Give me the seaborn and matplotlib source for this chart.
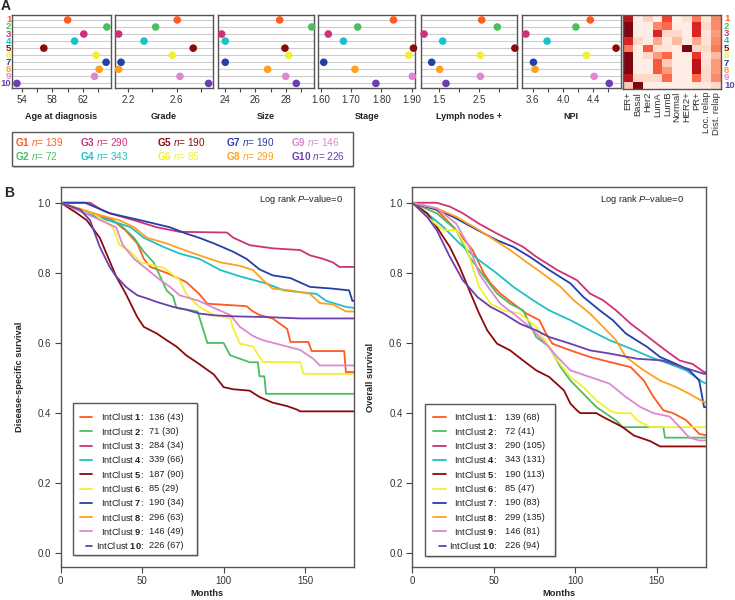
import pandas as pd
import seaborn as sns
import matplotlib.pyplot as plt
from matplotlib.patches import Rectangle

sns.set_theme(style="white")
plt.rcParams["font.family"] = ["Liberation Sans", "DejaVu Sans"]
plt.rcParams["mathtext.fontset"] = "custom"
plt.rcParams["mathtext.rm"] = "Liberation Sans"
plt.rcParams["mathtext.it"] = "Liberation Sans:italic"
plt.rcParams["mathtext.bf"] = "Liberation Sans:bold"

clusters = [str(i) for i in range(1, 11)]
colors = ["#FF5A1F", "#4DBD5F", "#CD3278", "#1EC0C8", "#8B0A0A",
          "#F2F02E", "#2340A8", "#FFA020", "#DD88D0", "#6A3FB0"]
group_n = [139, 72, 290, 343, 190, 85, 190, 299, 146, 226]

# panel A: mean clinical values per cluster
age = [60.0, 65.1, 62.1, 60.9, 56.9, 63.7, 65.0, 64.1, 63.5, 53.4]
grade = [2.605, 2.426, 2.12, 2.33, 2.737, 2.564, 2.14, 2.12, 2.627, 2.864]
size = [27.6, 29.72, 23.76, 24.0, 27.95, 28.2, 24.0, 26.8, 28.0, 28.7]
stage = [1.840, 1.722, 1.625, 1.675, 1.906, 1.890, 1.610, 1.713, 1.902, 1.782]
lymph = [2.56, 2.95, 1.12, 1.585, 3.39, 2.525, 1.31, 1.51, 2.525, 1.667]
npi = [4.36, 4.17, 3.51, 3.79, 4.70, 4.31, 3.61, 3.63, 4.41, 4.61]

heat_cols = ["ER+", "Basal", "Her2", "LumA", "LumB", "Normal", "HER2+", "PR+",
             "Loc. relap", "Dist. relap"]
heat_vals = [
    [0.80, 0.05, 0.18, 0.03, 0.60, 0.03, 0.12, 0.45, 0.10, 0.40],
    [0.95, 0.05, 0.05, 0.40, 0.50, 0.05, 0.05, 0.70, 0.15, 0.40],
    [0.95, 0.05, 0.05, 0.70, 0.15, 0.15, 0.05, 0.70, 0.10, 0.35],
    [0.70, 0.15, 0.05, 0.30, 0.08, 0.25, 0.05, 0.30, 0.12, 0.40],
    [0.45, 0.05, 0.55, 0.12, 0.10, 0.05, 0.95, 0.15, 0.15, 0.45],
    [0.95, 0.05, 0.15, 0.35, 0.50, 0.05, 0.05, 0.65, 0.10, 0.25],
    [0.95, 0.05, 0.05, 0.55, 0.20, 0.05, 0.05, 0.80, 0.12, 0.35],
    [0.95, 0.05, 0.05, 0.55, 0.35, 0.05, 0.05, 0.80, 0.15, 0.35],
    [0.80, 0.15, 0.15, 0.15, 0.50, 0.05, 0.05, 0.50, 0.15, 0.40],
    [0.20, 0.95, 0.05, 0.05, 0.05, 0.05, 0.05, 0.08, 0.08, 0.15],
]

# panel B: survival curves (months, survival)
dss = {
    "1": ([0, 20, 32, 40, 47, 51, 55, 65, 77, 85, 90, 114, 118, 122, 130, 133, 139, 141, 152, 154, 174, 175, 180],
          [1, .97, .95, .92, .884, .84, .817, .80, .774, .74, .712, .705, .69, .68, .67, .66, .64, .603, .603, .577, .577, .517, .517]),
    "2": ([0, 15, 36, 45, 51, 57, 61, 65, 69, 71, 84, 86, 90, 100, 104, 116, 121, 122, 125, 126, 180],
          [1, .97, .94, .90, .86, .83, .79, .75, .733, .70, .69, .66, .60, .60, .565, .545, .545, .505, .505, .455, .455]),
    "3": ([0, 18, 25, 30, 45, 59, 73, 102, 106, 116, 130, 147, 153, 161, 167, 171, 180],
          [1, 1, .98, .97, .95, .93, .917, .915, .90, .879, .87, .865, .85, .84, .83, .817, .817]),
    "4": ([0, 15, 30, 43, 51, 63, 73, 85, 98, 110, 126, 137, 157, 163, 175, 180],
          [1, .97, .95, .93, .90, .874, .855, .84, .808, .79, .77, .75, .74, .72, .703, .70]),
    "5": ([0, 10, 16, 24, 34, 40, 47, 51, 59, 65, 71, 77, 85, 94, 100, 106, 116, 122, 130, 139, 145, 147, 180],
          [1, .97, .95, .90, .79, .74, .674, .646, .627, .608, .59, .565, .54, .51, .474, .468, .464, .446, .43, .42, .41, .405, .405]),
    "6": ([0, 20, 32, 36, 43, 49, 63, 73, 77, 85, 94, 104, 106, 110, 118, 124, 147, 149, 180],
          [1, .97, .93, .88, .86, .83, .815, .78, .74, .703, .68, .67, .64, .598, .59, .546, .545, .512, .512]),
    "7": ([0, 15, 30, 49, 67, 77, 85, 94, 106, 114, 122, 130, 141, 153, 167, 177, 179, 180],
          [1, 1, .97, .95, .93, .912, .90, .884, .86, .84, .81, .793, .785, .76, .755, .75, .72, .72]),
    "8": ([0, 20, 36, 45, 53, 65, 73, 85, 98, 110, 118, 124, 130, 141, 153, 159, 167, 175, 180],
          [1, .97, .95, .93, .90, .884, .87, .85, .83, .82, .808, .78, .755, .75, .74, .714, .71, .69, .69]),
    "9": ([0, 15, 34, 38, 45, 53, 61, 67, 73, 85, 94, 104, 110, 118, 124, 139, 147, 155, 159, 180],
          [1, .97, .93, .88, .84, .81, .78, .76, .736, .72, .70, .68, .646, .62, .608, .59, .58, .555, .536, .536]),
    "10": ([0, 12, 18, 24, 30, 34, 40, 47, 53, 59, 69, 77, 85, 94, 106, 126, 147, 180],
           [1, .98, .95, .874, .817, .79, .76, .736, .727, .717, .703, .695, .684, .679, .676, .674, .67, .67]),
}
os_surv = {
    "1": ([0, 15, 27, 37, 44, 48, 54, 62, 70, 78, 82, 86, 97, 109, 121, 134, 142, 148, 154, 160, 168, 176, 180],
          [1, .98, .922, .865, .798, .77, .741, .712, .684, .665, .627, .598, .579, .56, .546, .531, .493, .446, .408, .40, .38, .341, .337]),
    "2": ([0, 15, 27, 35, 44, 52, 60, 68, 72, 76, 84, 91, 97, 105, 113, 125, 129, 154, 155, 180],
          [1, .97, .922, .846, .79, .741, .712, .693, .655, .617, .589, .531, .493, .455, .417, .379, .36, .36, .33, .33]),
    "3": ([0, 15, 23, 31, 41, 52, 60, 68, 76, 89, 101, 109, 117, 125, 134, 142, 150, 158, 164, 172, 179, 180],
          [1, 1, .989, .97, .94, .912, .893, .874, .846, .808, .779, .741, .722, .693, .655, .627, .598, .57, .55, .54, .517, .517]),
    "4": ([0, 9, 19, 29, 41, 52, 62, 74, 84, 97, 109, 121, 134, 146, 158, 168, 178, 180],
          [1, .97, .931, .884, .836, .798, .76, .722, .693, .665, .636, .608, .584, .56, .54, .522, .489, .485]),
    "5": ([0, 9, 15, 23, 29, 35, 41, 46, 52, 60, 68, 76, 84, 93, 97, 101, 103, 113, 117, 125, 129, 136, 146, 152, 180],
          [1, .97, .931, .874, .817, .75, .684, .636, .598, .579, .55, .522, .503, .465, .427, .408, .40, .40, .389, .37, .36, .336, .32, .305, .305]),
    "6": ([0, 9, 19, 27, 33, 37, 41, 48, 56, 66, 76, 84, 89, 97, 105, 113, 121, 125, 134, 138, 146, 180],
          [1, .96, .922, .922, .874, .817, .76, .712, .693, .684, .646, .589, .55, .503, .474, .436, .408, .40, .40, .379, .36, .36]),
    "7": ([0, 15, 25, 40, 52, 62, 72, 84, 97, 105, 115, 123, 131, 144, 152, 162, 170, 176, 179, 180],
          [1, .98, .96, .922, .893, .874, .846, .808, .77, .731, .693, .665, .627, .589, .56, .54, .522, .493, .417, .417]),
    "8": ([0, 15, 27, 41, 52, 60, 70, 80, 91, 99, 109, 117, 125, 131, 142, 152, 162, 170, 179, 180],
          [1, .984, .96, .922, .889, .865, .831, .798, .76, .722, .684, .646, .608, .56, .522, .493, .474, .455, .431, .431]),
    "9": ([0, 15, 27, 35, 41, 48, 54, 62, 72, 80, 89, 97, 109, 121, 131, 140, 148, 158, 164, 170, 176, 180],
          [1, .984, .94, .874, .798, .75, .712, .684, .646, .608, .56, .522, .503, .484, .446, .417, .40, .39, .36, .33, .322, .322]),
    "10": ([0, 9, 15, 23, 31, 40, 48, 56, 66, 76, 84, 97, 109, 121, 138, 154, 166, 179, 180],
           [1, .96, .922, .846, .779, .731, .703, .684, .655, .636, .617, .598, .579, .57, .555, .55, .531, .512, .512]),
}
dss_counts = ["136 (43)", "71 (30)", "284 (34)", "339 (66)", "187 (90)",
              "85 (29)", "190 (34)", "296 (63)", "146 (49)", "226 (67)"]
os_counts = ["139 (68)", "72 (41)", "290 (105)", "343 (131)", "190 (113)",
             "85 (47)", "190 (83)", "299 (135)", "146 (81)", "226 (94)"]

W, H = 735, 600
fig = plt.figure(figsize=(W / 100, H / 100), dpi=100)
TXT = 6.7


def pax(x0, y0, x1, y1):
    return fig.add_axes([x0 / W, 1 - y1 / H, (x1 - x0) / W, (y1 - y0) / H])


def frame(ax):
    for sp in ax.spines.values():
        sp.set_visible(True)
        sp.set_color("#555555")
        sp.set_linewidth(1.0)


rows = list(range(1, 11))
panels = [
    ("Age at diagnosis", age, (12.3, 110.7), (52.8, 65.6), [54, 56, 58, 60, 62, 64], [54, 58, 62], "{:g}"),
    ("Grade", grade, (115, 212.7), (2.09, 2.898), [2.2, 2.4, 2.6, 2.8], [2.2, 2.6], "{:.1f}"),
    ("Size", size, (217.7, 314), (23.5, 29.87), [24, 25, 26, 27, 28, 29], [24, 26, 28], "{:g}"),
    ("Stage", stage, (318.3, 415), (1.592, 1.911), [1.6, 1.7, 1.8, 1.9], [1.6, 1.7, 1.8, 1.9], "{:.2f}"),
    ("Lymph nodes +", lymph, (420.7, 517.3), (1.035, 3.45), [1.5, 2.0, 2.5, 3.0], [1.5, 2.5], "{:.1f}"),
    ("NPI", npi, (521.7, 621), (3.455, 4.765), [3.6, 3.8, 4.0, 4.2, 4.4, 4.6], [3.6, 4.0, 4.4], "{:.1f}"),
]
for i, (title, vals, (x0, x1), xlim, ticks, labelled, fmt) in enumerate(panels):
    ax = pax(x0, 15, x1, 88)
    for r in rows:
        ax.axhline(r, color="#cccccc", lw=0.8, zorder=0)
    sns.scatterplot(x=vals, y=rows, hue=clusters, hue_order=clusters, palette=colors,
                    s=30, edgecolor="none", legend=False, ax=ax, zorder=3, clip_on=False)
    ax.set_xlim(*xlim)
    ax.set_ylim(10.65, 0.3)
    ax.set_yticks([])
    ax.set_xticks(ticks)
    ax.set_xticklabels([fmt.format(t) if t in labelled else "" for t in ticks])
    ax.tick_params(axis="x", direction="out", length=3, width=0.8, labelsize=7,
                   pad=2, color="#444444", labelcolor="#333333", bottom=True)
    ax.set_xlabel(title, fontsize=6.5, fontweight="bold", labelpad=5, color="#222222")
    ax.set_ylabel("")
    frame(ax)
    if i == 0:
        for r in rows:
            ax.text(-0.01, r, str(r), transform=ax.get_yaxis_transform(), ha="right",
                    va="center", fontsize=6.8, fontweight="bold", color=colors[r - 1])

hax = pax(623.3, 15, 721, 89)
heat_df = pd.DataFrame(heat_vals, index=clusters, columns=heat_cols)
sns.heatmap(heat_df, cmap="Reds", vmin=0, vmax=1, cbar=False, ax=hax,
            xticklabels=heat_cols, yticklabels=False)
hax.tick_params(axis="x", labelsize=6.8, length=0, pad=2, labelrotation=90,
                labelcolor="#333333")
frame(hax)
for r in rows:
    hax.text(1.03, r - 0.5, str(r), transform=hax.get_yaxis_transform(), ha="left",
             va="center", fontsize=6.8, fontweight="bold", color=colors[r - 1])


def survival_panel(box, curves, ylabel):
    ax = pax(*box)
    frames = []
    for c in clusters:
        t, s = curves[c]
        frames.append(pd.DataFrame({"t": t, "s": s, "cluster": c}))
    df = pd.concat(frames, ignore_index=True)
    sns.lineplot(data=df, x="t", y="s", hue="cluster", hue_order=clusters,
                 palette=colors, estimator=None, sort=False, lw=1.3,
                 legend=False, ax=ax)
    ax.set_xlim(0, 180)
    ax.set_ylim(-0.038, 1.044)
    ax.set_xticks([0, 50, 100, 150])
    ax.set_yticks([0, 0.2, 0.4, 0.6, 0.8, 1.0])
    ax.set_yticklabels(["0.0", "0.2", "0.4", "0.6", "0.8", "1.0"])
    ax.tick_params(direction="out", length=4, width=0.8, labelsize=7, pad=3,
                   color="#444444", labelcolor="#333333", bottom=True, left=True)
    ax.set_xlabel("Months", fontsize=TXT, fontweight="bold", labelpad=2)
    ax.set_ylabel(ylabel, fontsize=TXT, fontweight="bold", labelpad=10)
    frame(ax)
    return ax


survival_panel((60.7, 187.3, 354, 566.7), dss, "Disease-specific survival")
survival_panel((412.3, 187.3, 705.7, 566.7), os_surv, "Overall survival")

# overlay in pixel coordinates for legends and panel letters
ov = fig.add_axes([0, 0, 1, 1])
ov.set_xlim(0, W)
ov.set_ylim(H, 0)
ov.axis("off")

ov.text(1, 6.5, "A", fontsize=10, fontweight="bold", va="center", ha="left")
ov.text(4, 193, "B", fontsize=10, fontweight="bold", va="center", ha="left")

# group legend of panel A
ov.add_patch(Rectangle((13.5, 133.5), 341, 34, facecolor="#d0d0d0", edgecolor="none"))
ov.add_patch(Rectangle((11.7, 131.7), 341, 34, facecolor="white", edgecolor="#555555", lw=1))
col_x = [15, 80, 156.7, 226, 291]
for i, c in enumerate(clusters):
    x = col_x[i // 2]
    y = 141.7 if i % 2 == 0 else 155.7
    ov.text(x, y, r"$\mathbf{G" + c + r"}$ $\mathit{n}$= " + str(group_n[i]),
            color=colors[i], fontsize=7.2, va="center", ha="left")


def surv_legend(x0, y0, x1, y1, line_x, colon_x, count_x, counts):
    ov.add_patch(Rectangle((x0 + 2, y0 + 2), x1 - x0, y1 - y0, facecolor="#d8d8d8", edgecolor="none"))
    ov.add_patch(Rectangle((x0, y0), x1 - x0, y1 - y0, facecolor="white", edgecolor="#555555", lw=1))
    step = (545.7 - 417) / 9
    for i, c in enumerate(clusters):
        y = 417 + i * step
        lx0 = line_x[0] + (6 if c == "10" else 0)
        ov.plot([lx0, line_x[1]], [y, y], color=colors[i], lw=1.3)
        ov.text(colon_x, y, "IntClust " + r"$\mathbf{" + c + "}$:", fontsize=TXT,
                ha="right", va="center", color="#222222")
        ov.text(count_x, y, counts[i], fontsize=TXT, ha="left", va="center", color="#222222")


surv_legend(72.7, 402.7, 196.7, 555, (80, 92), 144, 149.3, dss_counts)
surv_legend(425, 404, 555, 555.7, (433.3, 446), 496.7, 505, os_counts)

ov.text(259.3, 200, r"Log rank $\mathit{P}$–value=0", fontsize=TXT, va="center", ha="left", color="#222222")
ov.text(600, 200, r"Log rank $\mathit{P}$–value=0", fontsize=TXT, va="center", ha="left", color="#222222")

fig.savefig("out.png", dpi=100)
